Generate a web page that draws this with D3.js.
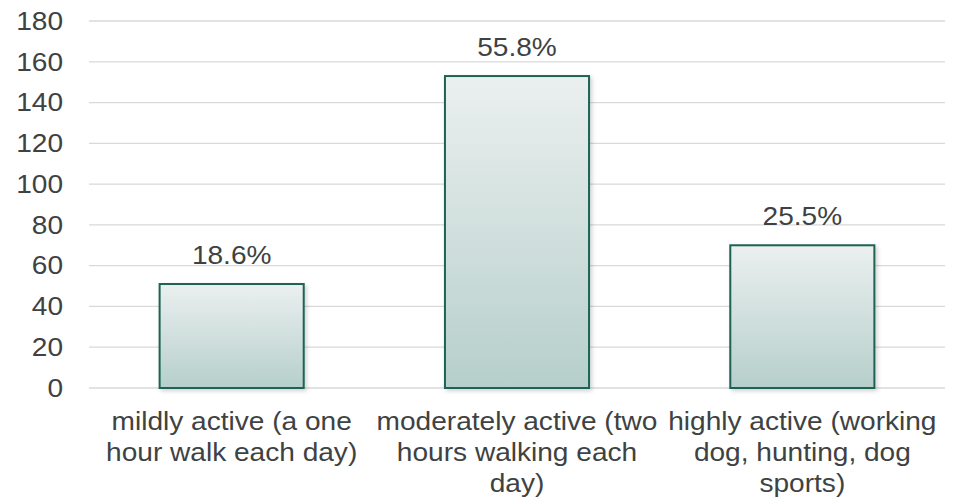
<!DOCTYPE html>
<html>
<head>
<meta charset="utf-8">
<script src="https://cdn.jsdelivr.net/npm/d3@7"></script>
<style>
  body { margin: 0; background: #fff; }
  text { font-family: "Liberation Sans", Arial, sans-serif; }
</style>
</head>
<body>
<script>
const categories = [
  "mildly active (a one hour walk each day)",
  "moderately active (two hours walking each day)",
  "highly active (working dog, hunting, dog sports)"
];
const categoryLines = [
  ["mildly active (a one", "hour walk each day)"],
  ["moderately active (two", "hours walking each", "day)"],
  ["highly active (working", "dog, hunting, dog", "sports)"]
];
const values = [51, 153, 70];
const percentLabels = ["18.6%", "55.8%", "25.5%"];
const yTicks = [0, 20, 40, 60, 80, 100, 120, 140, 160, 180];

const width = 957;
const height = 500;
const margin = { top: 21, right: 12, bottom: 112, left: 89 };
const fontSize = '26px';
const textColor = '#3e4242';
const stretch = 'scale(1.08,1)';  // text in the original is a bit wider

const svg = d3.select('body')
  .append('svg')
  .attr('width', width)
  .attr('height', height);

const defs = svg.append('defs');
const grad = defs.append('linearGradient')
  .attr('id', 'barGrad')
  .attr('x1', 0).attr('y1', 0).attr('x2', 0).attr('y2', 1);
grad.append('stop').attr('offset', '0%').attr('stop-color', '#ebf0ef');
grad.append('stop').attr('offset', '100%').attr('stop-color', '#b6cfcb');

const shadow = defs.append('filter')
  .attr('id', 'shadow')
  .attr('x', '-10%').attr('y', '-10%').attr('width', '130%').attr('height', '130%');
shadow.append('feDropShadow')
  .attr('dx', 2).attr('dy', 2).attr('stdDeviation', 2)
  .attr('flood-color', '#000').attr('flood-opacity', 0.18);

const xScale = d3.scaleBand()
  .domain(categories)
  .range([margin.left, width - margin.right])
  .paddingInner(0.495)
  .paddingOuter(0.2475);

const yScale = d3.scaleLinear()
  .domain([0, 180])
  .range([height - margin.bottom, margin.top]);

// gridlines
svg.append('g')
  .selectAll('line')
  .data(yTicks)
  .enter()
  .append('line')
  .attr('x1', margin.left)
  .attr('x2', width - margin.right)
  .attr('y1', d => yScale(d))
  .attr('y2', d => yScale(d))
  .attr('stroke', '#d9d9d9')
  .attr('stroke-width', 1.3);

// y axis labels
const yAxis = d3.axisLeft(yScale).tickValues(yTicks).tickSize(0).tickPadding(24);
const yg = svg.append('g')
  .attr('transform', `translate(${margin.left},0)`)
  .call(yAxis);
yg.select('.domain').remove();
yg.selectAll('text')
  .style('font-size', fontSize)
  .attr('fill', textColor)
  .attr('font-family', '"Liberation Sans", Arial, sans-serif')
  .attr('transform', stretch);

// bars
svg.selectAll('rect.bar')
  .data(values)
  .enter()
  .append('rect')
  .attr('class', 'bar')
  .attr('x', (d, i) => xScale(categories[i]))
  .attr('y', d => yScale(d))
  .attr('width', xScale.bandwidth())
  .attr('height', d => yScale(0) - yScale(d))
  .attr('fill', 'url(#barGrad)')
  .attr('stroke', '#1c6455')
  .attr('stroke-width', 2)
  .attr('filter', 'url(#shadow)');

// value labels
svg.selectAll('text.val')
  .data(values)
  .enter()
  .append('text')
  .attr('class', 'val')
  .attr('transform', (d, i) =>
    `translate(${xScale(categories[i]) + xScale.bandwidth() / 2},${yScale(d) - 20}) ${stretch}`)
  .attr('text-anchor', 'middle')
  .style('font-size', fontSize)
  .attr('fill', textColor)
  .text((d, i) => percentLabels[i]);

// category labels
const catG = svg.selectAll('text.cat')
  .data(categories)
  .enter()
  .append('text')
  .attr('class', 'cat')
  .attr('text-anchor', 'middle')
  .attr('transform', d =>
    `translate(${xScale(d) + xScale.bandwidth() / 2},${yScale(0) + 42}) ${stretch}`)
  .style('font-size', fontSize)
  .attr('fill', textColor);

catG.each(function (d, i) {
  const t = d3.select(this);
  categoryLines[i].forEach((line, j) => {
    t.append('tspan')
      .attr('x', 0)
      .attr('dy', j === 0 ? 0 : 31)
      .text(line);
  });
});
</script>
</body>
</html>
